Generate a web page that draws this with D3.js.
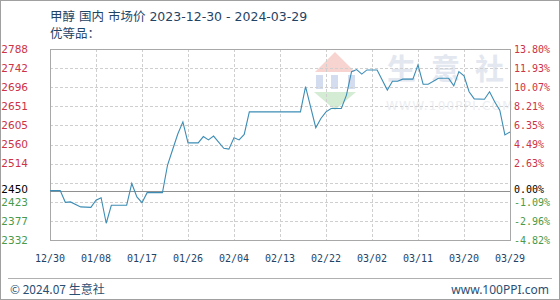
<!DOCTYPE html>
<html>
<head>
<meta charset="utf-8">
<script src="https://cdn.jsdelivr.net/npm/d3@7"></script>
<style>
  body { margin: 0; background: #fff; }
  svg { display: block; }
</style>
</head>
<body>
<svg id="chart"></svg>
<script>
// price points (元/吨)
const dates = ["2023-12-30","2023-12-31","2024-01-01","2024-01-02","2024-01-03","2024-01-05","2024-01-07",
  "2024-01-08","2024-01-09","2024-01-10","2024-01-11","2024-01-14","2024-01-15","2024-01-16","2024-01-17",
  "2024-01-18","2024-01-21","2024-01-22","2024-01-23","2024-01-24","2024-01-25","2024-01-26","2024-01-28",
  "2024-01-29","2024-01-30","2024-01-31","2024-02-02","2024-02-03","2024-02-04","2024-02-05","2024-02-06",
  "2024-02-07","2024-02-17","2024-02-18","2024-02-20","2024-02-21","2024-02-22","2024-02-23","2024-02-25",
  "2024-02-26","2024-02-27","2024-02-28","2024-02-29","2024-03-01","2024-03-03","2024-03-05","2024-03-06",
  "2024-03-07","2024-03-08","2024-03-10","2024-03-11","2024-03-12","2024-03-13","2024-03-15","2024-03-17",
  "2024-03-18","2024-03-19","2024-03-20","2024-03-21","2024-03-22","2024-03-24","2024-03-25","2024-03-26",
  "2024-03-27","2024-03-28","2024-03-29"]
const prices = [2450,2450,2450,2422,2423,2411,2410,
  2427,2433,2372,2415,2415,2467,2435,2421,
  2445,2445,2511,2548,2585,2614,2564,2564,
  2579,2571,2580,2551,2549,2576,2571,2584,
  2638,2638,2698,2600,2622,2638,2646,2646,
  2678,2734,2739,2728,2738,2738,2690,2711,
  2711,2716,2716,2750,2704,2704,2718,2718,
  2700,2734,2724,2686,2669,2668,2686,2662,
  2642,2583,2590]

const basePrice = 2450
const yTicks = [2332,2377.6,2423.2,2468.8,2514.4,2560,2605.6,2651.2,2696.8,2742.4,2788]
const xTicks = ["2023-12-30","2024-01-08","2024-01-17","2024-01-26","2024-02-04","2024-02-13",
  "2024-02-22","2024-03-02","2024-03-11","2024-03-20","2024-03-29"]

const W = 560, H = 300
const plot = {left: 50, right: 510, top: 49, bottom: 240}
const red = "#cc3347", green = "#4a9a4a"

const parse = d3.timeParse("%Y-%m-%d")
const data = dates.map((d, i) => ({date: parse(d), price: prices[i]}))

const svg = d3.select("#chart").attr("width", W).attr("height", H)

// outer frame
svg.append("rect").attr("x", 0.5).attr("y", 0.5).attr("width", W - 1).attr("height", H - 1)
  .attr("fill", "#fff").attr("stroke", "#a0a0a0")

const x = d3.scaleTime()
  .domain([parse("2023-12-30"), parse("2024-03-29")])
  .range([plot.left, plot.right])

const y = d3.scaleLinear()
  .domain([yTicks[0], yTicks[yTicks.length - 1]])
  .range([plot.bottom, plot.top])

// watermark
const wm = svg.append("g").attr("opacity", 0.6)
wm.append("path")
  .attr("d", "M335,52 L355,72 L315,72 Z").attr("fill", "#f2b8b0")
;[316, 331, 348].forEach(bx => {
  wm.append("rect").attr("x", bx).attr("y", 75).attr("width", 7).attr("height", 14).attr("fill", "#b8c8e6")
})
wm.append("path")
  .attr("d", "M314,92 L356,92 L335,110 Z").attr("fill", "#b8e0b8")
;[["生", 387], ["意", 431], ["社", 475]].forEach(([ch, cx]) => {
  svg.append("text").attr("x", cx).attr("y", 80)
    .attr("font-family", "Noto Sans CJK SC").attr("font-size", 29).attr("font-weight", "bold")
    .attr("fill", "#e3e7ef").text(ch)
})
svg.append("text").attr("x", 386).attr("y", 110)
  .attr("font-family", "DejaVu Sans").attr("font-size", 12).attr("letter-spacing", 1.2)
  .attr("fill", "#eceef2").text("WWW.100PPI.COM")

// grid
const grid = svg.append("g").attr("stroke", "#cfcfcf").attr("stroke-dasharray", "3,2")
grid.selectAll("line.h").data(yTicks).join("line")
  .attr("x1", plot.left).attr("x2", plot.right)
  .attr("y1", d => Math.round(y(d)) + 0.5).attr("y2", d => Math.round(y(d)) + 0.5)
grid.selectAll("line.v").data(xTicks).join("line")
  .attr("x1", d => Math.round(x(parse(d))) + 0.5).attr("x2", d => Math.round(x(parse(d))) + 0.5)
  .attr("y1", plot.top).attr("y2", plot.bottom)

// plot frame
svg.append("rect").attr("x", plot.left + 0.5).attr("y", plot.top + 0.5)
  .attr("width", plot.right - plot.left).attr("height", plot.bottom - plot.top)
  .attr("fill", "none").attr("stroke", "#a8a8a8")

// base line
svg.append("line")
  .attr("x1", plot.left).attr("x2", plot.right)
  .attr("y1", Math.round(y(basePrice)) + 0.5).attr("y2", Math.round(y(basePrice)) + 0.5)
  .attr("stroke", "#909090")

// price line
svg.append("path").datum(data)
  .attr("fill", "none").attr("stroke", "#3d8db5").attr("stroke-width", 1.1)
  .attr("d", d3.line().x(d => x(d.date)).y(d => y(d.price)))

// left labels (price) and right labels (change vs base)
const labelVals = yTicks.filter(v => Math.abs(v - 2468.8) > 1).concat([basePrice])
const colorOf = v => v > basePrice ? red : (v < basePrice ? green : "#000")
// nudge the two labels that sit closest together
const labelY = v => y(v) + (v === basePrice ? -1.5 : (Math.abs(v - 2423.2) < 1 ? 0.5 : 0))

svg.selectAll("text.lv").data(labelVals).join("text")
  .attr("x", 28).attr("y", labelY).attr("dy", "0.36em")
  .attr("text-anchor", "end").attr("font-family", "DejaVu Sans").attr("font-size", 10.5)
  .attr("fill", colorOf).text(v => Math.round(v) === 2378 ? 2377 : Math.floor(v))

svg.selectAll("text.rv").data(labelVals).join("text")
  .attr("x", 514).attr("y", labelY).attr("dy", "0.36em")
  .attr("font-family", "DejaVu Sans Mono").attr("font-size", 10)
  .attr("fill", colorOf).text(v => ((v / basePrice - 1) * 100).toFixed(2) + "%")

// x axis labels
const fmt = d3.timeFormat("%m/%d")
svg.selectAll("text.xl").data(xTicks).join("text")
  .attr("x", d => x(parse(d))).attr("y", 262)
  .attr("text-anchor", "middle").attr("font-family", "DejaVu Sans Mono").attr("font-size", 10)
  .attr("fill", "#1f4466").text(d => fmt(parse(d)))

// title
svg.append("text").attr("x", 50).attr("y", 21)
  .attr("font-family", "DejaVu Sans, Noto Sans CJK SC").attr("font-size", 12.5)
  .attr("fill", "#1f4466").text("甲醇 国内 市场价 2023-12-30 - 2024-03-29")
svg.append("text").attr("x", 50).attr("y", 38)
  .attr("font-family", "Noto Sans CJK SC").attr("font-size", 12.5)
  .attr("fill", "#1f4466").text("优等品：")

// footer
svg.append("line").attr("x1", 8).attr("x2", 552).attr("y1", 278.5).attr("y2", 278.5)
  .attr("stroke", "#b0b0b0")
svg.append("text").attr("x", 10).attr("y", 294)
  .attr("font-family", "Noto Sans CJK SC").attr("font-size", 12)
  .attr("fill", "#2a4f74").text("© 2024.07 生意社")
svg.append("text").attr("x", 549).attr("y", 294).attr("text-anchor", "end")
  .attr("font-family", "Noto Sans").attr("font-size", 12)
  .attr("fill", "#2a4f74").text("www.100PPI.com")
</script>
</body>
</html>
